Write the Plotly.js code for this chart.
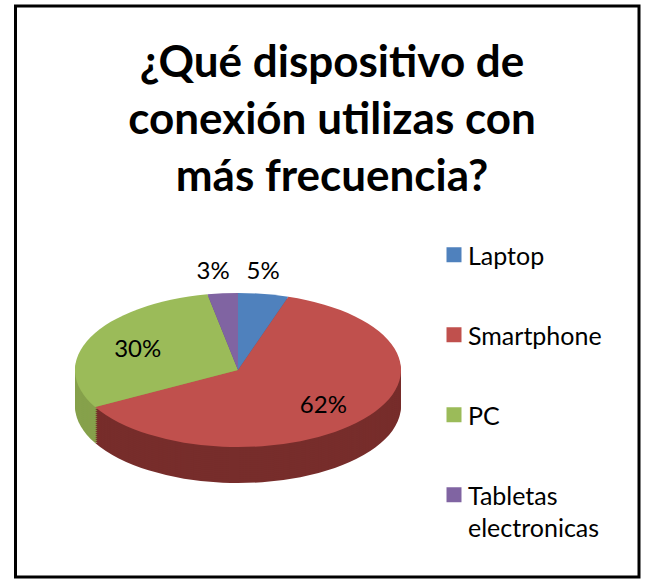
<!DOCTYPE html>
<html><head><meta charset="utf-8">
<script src="https://cdn.plot.ly/plotly-3.0.1.min.js"></script>
<style>body{margin:0;background:#fff}#chart{width:647px;height:581px}</style>
</head><body><div id="chart"></div>
<script>
// ---- data ----
const categories = ['Laptop', 'Smartphone', 'PC', 'Tabletas electronicas'];
const legendLabels = ['Laptop', 'Smartphone', 'PC', 'Tabletas<br>electronicas'];
const percentages = [5, 62, 30, 3];
const labelPositions = ['outside', 'inside', 'inside', 'outside'];
const topColors = ['#4F81BD', '#C0504D', '#9BBB59', '#8064A2'];
const sideColors = ['#3B6190', '#772D2B', '#86A14B', '#604B7D'];
const titleText = '¿Qué dispositivo de<br>conexión utilizas con<br>más frecuencia?';

// ---- geometry / style ----
const W = 647, H = 581;
const CX = 238, CY = 370, RX = 163, RY = 77, DEPTH = 36, STEP = 2;
const K = RY / RX;
const INSIDE_F = 0.68, OUTSIDE_LIFT = 24, OUTSIDE_SEP = 50, OUTSIDE_SHIFT = -5, LEGEND_PITCH = 80;
const domainX = [(CX - RX) / W, (CX + RX) / W];
const domainY = [1 - (CY + RX) / H, 1 - (CY - RX) / H];

const depthOffsets = [];
for (let d = DEPTH; d >= STEP; d -= STEP) depthOffsets.push(d);

const traces = [];
depthOffsets.forEach(function () {
  traces.push({
    type: 'pie', labels: legendLabels, values: percentages, sort: false,
    direction: 'clockwise', rotation: 0, domain: {x: domainX, y: domainY},
    marker: {colors: sideColors, line: {width: 0}},
    textinfo: 'none', hoverinfo: 'skip', showlegend: false
  });
});
traces.push({
  type: 'pie', labels: legendLabels, values: percentages, sort: false,
  direction: 'clockwise', rotation: 0, domain: {x: domainX, y: domainY},
  marker: {colors: topColors, line: {width: 0}},
  textinfo: 'percent', textposition: labelPositions,
  insidetextorientation: 'horizontal',
  textfont: {family: 'Lato, sans-serif', size: 24, color: '#000'},
  hoverinfo: 'label+percent', showlegend: true
});

const layout = {
  width: W, height: H,
  margin: {l: 0, r: 0, t: 0, b: 0},
  paper_bgcolor: '#fff',
  title: {
    text: titleText, x: 332 / W, xanchor: 'center', xref: 'paper',
    y: 1 - 77 / H, yanchor: 'top', yref: 'container',
    font: {family: 'Lato, sans-serif', size: 44, color: '#000', weight: 'bold'}
  },
  showlegend: true,
  legend: {
    x: 428 / W, xanchor: 'left', y: 1 - 232 / H, yanchor: 'top',
    font: {family: 'Lato, sans-serif', size: 25, color: '#000'},
    valign: 'top', bgcolor: 'rgba(0,0,0,0)'
  },
  shapes: [{
    type: 'rect', xref: 'paper', yref: 'paper',
    x0: 15.5 / W, x1: 639 / W, y0: 1 - 577 / H, y1: 1 - 6 / H,
    line: {color: '#000', width: 3}, fillcolor: 'rgba(0,0,0,0)'
  }]
};

Plotly.newPlot('chart', traces, layout, {staticPlot: true}).then(function (gd) {
  const traceGs = gd.querySelectorAll('.pielayer .trace');
  const cd0 = gd.calcdata[0][0];
  const cx = cd0.cx, cy = cd0.cy, r = cd0.r;
  const ry = r * K;
  traceGs.forEach(function (g, i) {
    const off = i < depthOffsets.length ? depthOffsets[i] : 0;
    const tf = 'translate(0,' + off + ') translate(0,' + cy + ') scale(1,' + K + ') translate(0,' + (-cy) + ')';
    g.querySelectorAll('path.surface').forEach(function (p) { p.setAttribute('transform', tf); });
    g.querySelectorAll('path.textline').forEach(function (p) { p.style.display = 'none'; });
  });

  // label targets from slice mid-angles on the flattened face
  const total = percentages.reduce(function (a, b) { return a + b; }, 0);
  let cum = 0;
  const targets = percentages.map(function (v, j) {
    const th = 2 * Math.PI * (cum + v / 2) / total;
    cum += v;
    if (labelPositions[j] === 'inside') {
      return [cx + INSIDE_F * r * Math.sin(th), cy - INSIDE_F * ry * Math.cos(th)];
    }
    return [cx + r * Math.sin(th), cy - ry * Math.cos(th) - OUTSIDE_LIFT];
  });
  const outs = [];
  labelPositions.forEach(function (p, j) { if (p === 'outside') outs.push(j); });
  for (let a = 0; a < outs.length; a++) {
    for (let b = a + 1; b < outs.length; b++) {
      const ta = targets[outs[a]], tb = targets[outs[b]];
      if (Math.abs(ta[0] - tb[0]) < OUTSIDE_SEP && Math.abs(ta[1] - tb[1]) < 30) {
        const m = (ta[0] + tb[0]) / 2;
        const sa = ta[0] <= tb[0] ? -1 : 1;
        ta[0] = m + sa * OUTSIDE_SEP / 2;
        tb[0] = m - sa * OUTSIDE_SEP / 2;
      }
    }
  }
  outs.forEach(function (j) { targets[j][0] += OUTSIDE_SHIFT; });
  const top = traceGs[traceGs.length - 1];
  top.querySelectorAll('g.slice').forEach(function (s, j) {
    const tg = s.querySelector('g.slicetext');
    if (!tg) return;
    const bb = tg.getBBox();
    const tx = bb.x + bb.width / 2, ty = bb.y + bb.height / 2;
    tg.setAttribute('transform', 'translate(' + (targets[j][0] - tx) + ',' + (targets[j][1] - ty) + ')');
  });

  // legend: bigger squares, Excel-like spacing
  gd.querySelectorAll('.legend path.legendpie').forEach(function (p) {
    p.setAttribute('d', 'M13.5,7.5H-1.5V-7.5H13.5Z');
  });
  const items = Array.prototype.slice.call(gd.querySelectorAll('.legend g.traces'));
  const pos = items.map(function (it) {
    const m = /translate\(\s*([-\d.e]+)[ ,]+([-\d.e]+)\s*\)/.exec(it.getAttribute('transform') || '');
    return m ? [+m[1], +m[2]] : null;
  });
  if (pos.length > 1 && pos[0] && pos[1]) {
    const pitch1 = pos[1][1] - pos[0][1];
    items.forEach(function (it, i) {
      if (!pos[i]) return;
      it.setAttribute('transform', 'translate(' + pos[i][0] + ',' + (pos[i][1] + i * (LEGEND_PITCH - pitch1)) + ')');
    });
  }
  gd.querySelectorAll('.legend [clip-path]').forEach(function (e) { e.removeAttribute('clip-path'); });
});
</script>
</body></html>
